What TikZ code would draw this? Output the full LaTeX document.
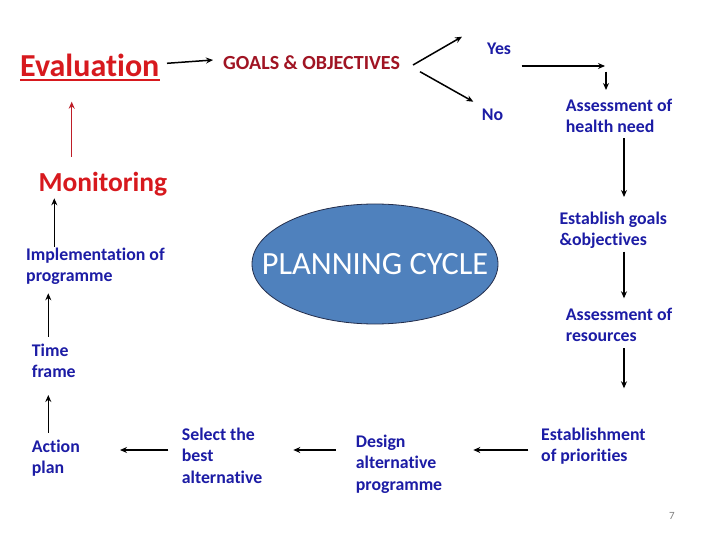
\documentclass[tikz,border=0pt]{standalone}
\usepackage{fontspec}
\setmainfont{Carlito}[Ligatures={NoCommon}]
\usetikzlibrary{arrows.meta,shapes.geometric}
\definecolor{txtblue}{RGB}{28,28,165}
\definecolor{evred}{RGB}{215,25,30}
\definecolor{goalred}{RGB}{160,20,35}
\definecolor{arrred}{RGB}{190,30,40}
\definecolor{ellfill}{RGB}{79,129,189}
\definecolor{ellline}{RGB}{35,45,75}
\tikzset{
  bluetxt/.style={text=txtblue, font=\bfseries\fontsize{17.8}{21.5}\selectfont, align=left, inner sep=0pt, anchor=north west},
  bluesingle/.style={text=txtblue, font=\bfseries\fontsize{17.8}{21.5}\selectfont, inner sep=0pt, anchor=base west},
  arr/.style={line width=1.5pt, -{Stealth[length=7pt,width=6pt]}},
  redarr/.style={line width=1.5pt, draw=arrred, -{Stealth[length=7pt,width=6pt]}}
}
\begin{document}
\begin{tikzpicture}[x=1pt,y=-1pt]
\useasboundingbox (0,0) rectangle (720,540);
\fill[white] (0,0) rectangle (720,540);

% titles
\node[text=evred, font=\bfseries\fontsize{32}{36}\selectfont, inner sep=0pt, anchor=base west] (eval) at (20,76.7) {Evaluation};
\draw[evred, line width=1.8pt] ([yshift=-3.5pt]eval.base west) -- ([yshift=-3.5pt]eval.base east);
\node[text=goalred, font=\bfseries\fontsize{20}{22}\selectfont, inner sep=0pt, anchor=base west] (goals) at (223,69.3) {GOALS \& OBJECTIVES};
\node[text=evred, font=\bfseries\fontsize{27.5}{32}\selectfont, inner sep=0pt, anchor=base west] (monit) at (38.3,192) {Monitoring};

% central ellipse
\draw[draw=ellline, line width=0.8pt, fill=ellfill] (375,264) ellipse [x radius=123, y radius=60];
\node[text=white, font=\fontsize{32.4}{36}\selectfont, inner sep=0pt] (cycle) at (375,264) {PLANNING CYCLE};

% blue labels
\node[bluesingle] (yes) at (487,55) {Yes};
\node[bluesingle] (no) at (481.7,121) {No};
\node[bluetxt] (health) at (565.7,98.5) {Assessment of\\health need};
\node[bluetxt] (estgoals) at (559.3,211.8) {Establish goals\\\&objectives};
\node[bluetxt] (resources) at (565.7,307.8) {Assessment of\\resources};
\node[bluetxt] (prior) at (541,427.8) {Establishment\\of priorities};
\node[bluetxt] (design) at (355.7,434.5) {Design\\alternative\\programme};
\node[bluetxt] (select) at (181.7,427.8) {Select the\\best\\alternative};
\node[bluetxt] (action) at (31.7,439.5) {Action\\plan};
\node[bluetxt] (time) at (31.7,343.5) {Time\\frame};
\node[bluetxt] (impl) at (26,247.8) {Implementation of\\programme};

\node[text=gray, font=\fontsize{11}{13}\selectfont, inner sep=0pt, anchor=base west] (pnum) at (669,519) {7};

% arrow end points
\coordinate (a1s) at (167,63.3);   \coordinate (a1e) at (213,60);
\coordinate (a2s) at (413,65);     \coordinate (a2e) at (462,36.7);
\coordinate (a3s) at (420,71.7);   \coordinate (a3e) at (473.3,101.7);
\coordinate (a4s) at (521.7,66);   \coordinate (a4e) at (605,66);
\coordinate (a5s) at (606,71.7);   \coordinate (a5e) at (606,90);
\coordinate (a6s) at (624,138.3);  \coordinate (a6e) at (624,197);
\coordinate (a7s) at (624,251.7);  \coordinate (a7e) at (624,298.3);
\coordinate (a8s) at (624,348.3);  \coordinate (a8e) at (624,388.3);
\coordinate (a9s) at (528.3,450);  \coordinate (a9e) at (473.3,450);
\coordinate (a10s) at (335.7,450); \coordinate (a10e) at (293.3,450);
\coordinate (a11s) at (168.3,450); \coordinate (a11e) at (120,450);
\coordinate (a12s) at (48.3,432.7);\coordinate (a12e) at (48.3,395);
\coordinate (a13s) at (48.3,336.7);\coordinate (a13e) at (48.3,293.3);
\coordinate (a14s) at (54.3,246.7);\coordinate (a14e) at (54.3,198.3);
\coordinate (a15s) at (71.7,156.7);\coordinate (a15e) at (71.7,101.7);

\draw[arr] (a1s) -- (a1e);
\draw[arr] (a2s) -- (a2e);
\draw[arr] (a3s) -- (a3e);
\draw[arr] (a4s) -- (a4e);
\draw[arr] (a5s) -- (a5e);
\draw[arr] (a6s) -- (a6e);
\draw[arr] (a7s) -- (a7e);
\draw[arr] (a8s) -- (a8e);
\draw[arr] (a9s) -- (a9e);
\draw[arr] (a10s) -- (a10e);
\draw[arr] (a11s) -- (a11e);
\draw[arr] (a12s) -- (a12e);
\draw[arr] (a13s) -- (a13e);
\draw[arr] (a14s) -- (a14e);
\draw[redarr] (a15s) -- (a15e);
\end{tikzpicture}
\end{document}
